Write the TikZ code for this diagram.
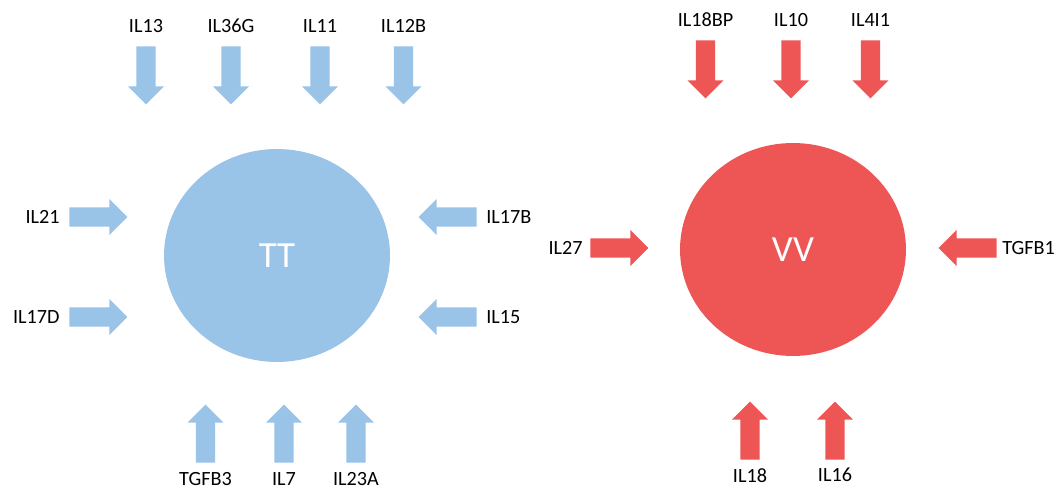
\documentclass[tikz,border=0pt]{standalone}
\usepackage{fontspec}
\setmainfont{Carlito}
\usetikzlibrary{shapes.geometric,shapes.arrows,positioning}
\definecolor{cellblue}{RGB}{154,195,232}
\definecolor{cellred}{RGB}{238,86,86}
\tikzset{
  blk/.style={single arrow,minimum height=1.16cm,minimum width=0.7cm,anchor=tail,
              single arrow head extend=0.165cm,inner xsep=0pt,inner ysep=0.185cm,draw=none},
  bblk/.style={blk,fill=cellblue},
  rblk/.style={blk,fill=cellred},
  lbl/.style={font=\fontsize{11.5}{13}\selectfont,inner sep=0pt,text=black},
  cell/.style={ellipse,minimum width=4.52cm,minimum height=4.26cm,inner sep=0pt,
               text=white,font=\fontsize{21}{24}\selectfont},
}
\begin{document}
\begin{tikzpicture}[x=0.02cm,y=-0.02cm]
  \fill[white] (0,0) rectangle (1059,492);
  % ── the two cells ──
  \node[cell,fill=cellblue] (tt) at (277,255.5) {TT};
  \node[cell,fill=cellred]  (vv) at (793,249.5) {VV};
  % ── TT: arrows from above (placed by their tails) ──
  \foreach \x/\n/\t in {146/ila/IL13, 231/ilb/IL36G, 320/ilc/IL11, 403.5/ild/IL12B}{
    \node[bblk,rotate=-90] (\n) at (\x,46) {};
    \node[lbl,above=0.26cm of \n.tail] {\t};
  }
  % ── TT: arrows from the left and the right ──
  \foreach \y/\n/\t in {217/ile/IL21, 317/ilf/IL17D}{
    \node[bblk] (\n) at (69,\y) {};
    \node[lbl,left=0.18cm of \n.tail] {\t};
  }
  \foreach \y/\n/\t in {217/ilg/IL17B, 317/ilh/IL15}{
    \node[bblk,rotate=180] (\n) at (477,\y) {};
    \node[lbl,right=0.18cm of \n.tail] {\t};
  }
  % ── TT: arrows from below ──
  \foreach \x/\n/\t in {205.5/ili/TGFB3, 284/ilj/IL7, 356/ilk/IL23A}{
    \node[bblk,rotate=90] (\n) at (\x,463) {};
    \node[lbl,below=0.18cm of \n.tail] {\t};
  }
  % ── VV ──
  \foreach \x/\n/\t in {705.5/vla/IL18BP, 791/vlb/IL10, 870.5/vlc/IL4I1}{
    \node[rblk,rotate=-90] (\n) at (\x,40) {};
    \node[lbl,above=0.26cm of \n.tail] {\t};
  }
  \node[rblk] (vld) at (590,248) {};
  \node[lbl,left=0.14cm of vld.tail] {IL27};
  \node[rblk,rotate=180] (vle) at (997,248) {};
  \node[lbl,right=0.1cm of vle.tail] {TGFB1};
  \foreach \x/\n/\t in {750/vlf/IL18, 835/vlg/IL16}{
    \node[rblk,rotate=90] (\n) at (\x,460) {};
    \node[lbl,below=0.16cm of \n.tail] {\t};
  }
\end{tikzpicture}
\end{document}
